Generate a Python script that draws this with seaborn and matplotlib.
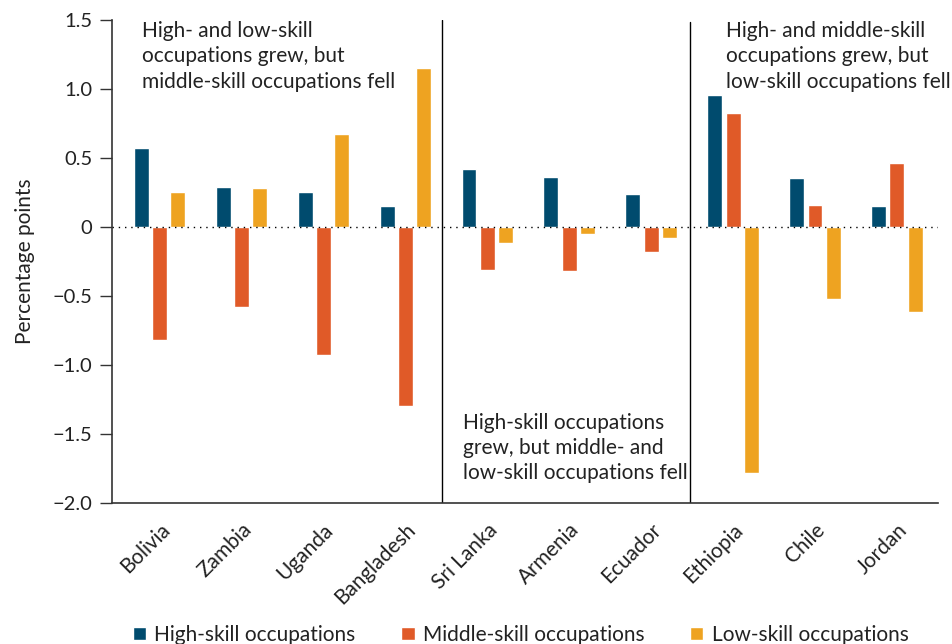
import numpy as np
import pandas as pd
import matplotlib
matplotlib.use("Agg")
import matplotlib.pyplot as plt
import seaborn as sns

# Data
countries = ["Bolivia", "Zambia", "Uganda", "Bangladesh", "Sri Lanka",
             "Armenia", "Ecuador", "Ethiopia", "Chile", "Jordan"]
high_skill = [0.57, 0.29, 0.25, 0.15, 0.42, 0.36, 0.24, 0.95, 0.35, 0.15]
middle_skill = [-0.82, -0.58, -0.93, -1.30, -0.31, -0.32, -0.18, 0.82, 0.16, 0.46]
low_skill = [0.25, 0.28, 0.67, 1.15, -0.12, -0.05, -0.08, -1.78, -0.52, -0.62]
series = ["High-skill occupations", "Middle-skill occupations", "Low-skill occupations"]
colors = ["#004B6E", "#E05A28", "#EEA321"]

df = pd.DataFrame({
    "country": countries * 3,
    "value": high_skill + middle_skill + low_skill,
    "group": [series[0]] * 10 + [series[1]] * 10 + [series[2]] * 10,
})

sns.set_style("white")
plt.rcParams["font.family"] = ["Lato", "DejaVu Sans"]

fig = plt.figure(figsize=(9.52, 6.44), dpi=100)
ax = fig.add_axes([0.1176, 0.219, 0.8676, 0.7507])

sns.barplot(data=df, x="country", y="value", hue="group", order=countries,
            hue_order=series, palette=colors, width=0.667, gap=0.18,
            saturation=1, ax=ax)

ax.set_ylim(-2.0, 1.5)
ax.set_xlim(-0.58, 9.5)
ax.set_yticks([-2.0, -1.5, -1.0, -0.5, 0, 0.5, 1.0, 1.5])
ax.set_yticklabels(["\u22122.0", "\u22121.5", "\u22121.0", "\u22120.5", "0",
                    "0.5", "1.0", "1.5"], fontsize=14.5, color="#222222")

# category boundaries carry the ticks
bounds = np.linspace(-0.58, 9.5, 11)
ax.set_xticks(bounds, minor=True)
ax.set_xticks(range(len(countries)))
ax.set_xticklabels(countries, rotation=45, ha="right", rotation_mode="anchor",
                   fontsize=15, color="#222222")
ax.tick_params(axis="x", which="major", length=0, pad=12)
ax.tick_params(axis="x", which="minor", length=9, width=1, color="#333333",
               direction="out")
ax.tick_params(axis="y", length=9, width=1, color="#333333", direction="out",
               pad=5, left=True)

for s in ["top", "right"]:
    ax.spines[s].set_visible(False)
for s in ["left", "bottom"]:
    ax.spines[s].set_color("#333333")
    ax.spines[s].set_linewidth(1.2)

ax.axhline(0, color="black", linestyle=(0, (1, 3.5)), linewidth=1)
ax.axvline(bounds[4], color="black", linewidth=1)
ax.axvline(bounds[7], color="black", linewidth=1, ymax=0.995)

ax.set_xlabel("")
ax.set_ylabel("Percentage points", fontsize=15, labelpad=13, color="#222222")

txt = dict(transform=ax.transAxes, fontsize=15, color="#222222",
           linespacing=1.33, va="top", ha="left")
ax.text(0.036, 0.997, "High- and low-skill\noccupations grew, but\n"
        "middle-skill occupations fell", **txt)
ax.text(0.4245, 0.187, "High-skill occupations\ngrew, but middle- and\n"
        "low-skill occupations fell", **txt)
ax.text(0.744, 0.997, "High- and middle-skill\noccupations grew, but\n"
        "low-skill occupations fell", **txt)

leg = ax.legend(loc="center", bbox_to_anchor=(0.495, -0.273), ncol=3,
                frameon=False, fontsize=15, handlelength=0.63,
                handleheight=0.6, handletextpad=0.4, columnspacing=2.2)
for t in leg.get_texts():
    t.set_color("#222222")

fig.savefig("out.png", dpi=100)
